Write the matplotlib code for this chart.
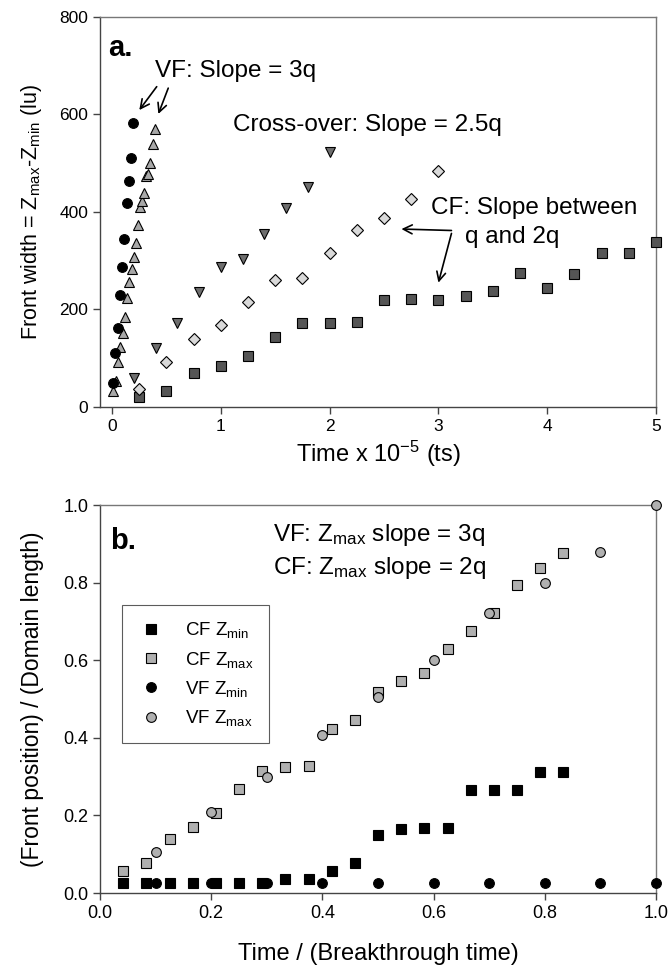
import numpy as np
import matplotlib
matplotlib.use('Agg')
import matplotlib.pyplot as plt

plt.rcParams['font.family'] = ['Liberation Sans', 'DejaVu Sans']
plt.rcParams['mathtext.default'] = 'regular'

# Panel a: front width vs time (x 1e-5 ts)
vf1_t = [0.006, 0.028, 0.052, 0.074, 0.095, 0.113, 0.138, 0.156, 0.175, 0.196]
vf1_w = [50, 111, 163, 230, 288, 344, 418, 463, 511, 582]

vf2_t = [0.012, 0.037, 0.058, 0.077, 0.098, 0.117, 0.138, 0.159, 0.181, 0.199,
         0.221, 0.239, 0.260, 0.279, 0.297, 0.315, 0.334, 0.352, 0.374, 0.395]
vf2_w = [33, 54, 93, 124, 152, 185, 223, 257, 282, 307,
         336, 373, 410, 423, 438, 473, 477, 501, 539, 570]

xo_t = [0.2, 0.4, 0.6, 0.8, 1.0, 1.2, 1.4, 1.6, 1.8, 2.0]
xo_w = [59, 122, 172, 236, 287, 303, 355, 408, 451, 524]

cf1_t = [0.25, 0.5, 0.75, 1.0, 1.25, 1.5, 1.75, 2.0, 2.25, 2.5, 2.75, 3.0]
cf1_w = [36, 92, 139, 168, 215, 260, 265, 315, 363, 387, 427, 485]

cf2_t = [0.25, 0.5, 0.75, 1.0, 1.25, 1.5, 1.75, 2.0, 2.25, 2.5,
         2.75, 3.0, 3.25, 3.5, 3.75, 4.0, 4.25, 4.5, 4.75, 5.0]
cf2_w = [21, 33, 69, 84, 105, 143, 172, 173, 175, 219,
         221, 219, 228, 238, 275, 245, 272, 316, 315, 338]

# Panel b: normalised front positions vs normalised time
cf_tn = [0.0417, 0.0833, 0.125, 0.1667, 0.2083, 0.25, 0.2917, 0.3333, 0.375, 0.4167,
         0.4583, 0.5, 0.5417, 0.5833, 0.625, 0.6667, 0.7083, 0.75, 0.7917, 0.8333]
cf_zmin = [0.025, 0.025, 0.025, 0.027, 0.027, 0.027, 0.027, 0.035, 0.035, 0.056,
           0.078, 0.149, 0.165, 0.168, 0.168, 0.265, 0.265, 0.265, 0.311, 0.311]
cf_zmax = [0.057, 0.078, 0.139, 0.171, 0.205, 0.268, 0.315, 0.325, 0.328, 0.424,
           0.447, 0.517, 0.546, 0.566, 0.629, 0.676, 0.721, 0.795, 0.837, 0.877]

vf_tn = [0.1, 0.2, 0.3, 0.4, 0.5, 0.6, 0.7, 0.8, 0.9, 1.0]
vf_zmin = [0.025, 0.025, 0.025, 0.025, 0.025, 0.025, 0.025, 0.025, 0.025, 0.025]
vf_zmax = [0.106, 0.21, 0.30, 0.407, 0.506, 0.60, 0.723, 0.80, 0.88, 1.0]

FS_XLAB = 17
FS_TXT = 17.5
FS_PANEL = 21

fig = plt.figure(figsize=(6.69, 9.69), dpi=100)
axa = fig.add_axes([0.1495, 0.580, 0.8311, 0.4025])
axb = fig.add_axes([0.1495, 0.0784, 0.8311, 0.4004])

def styleAxes(ax, labelsize):
    for s in ['left', 'bottom']:
        ax.spines[s].set_color('#444444')
    for s in ['top', 'right']:
        ax.spines[s].set_color('#777777')
    for s in ax.spines.values():
        s.set_linewidth(1.0)
    ax.tick_params(direction='out', length=5, width=1, color='#444444',
                   labelsize=labelsize, top=False, right=False)

mk = dict(linestyle='none', markersize=7, markeredgewidth=0.8,
          markeredgecolor='black', clip_on=False, zorder=3)

# Panel a
#---------------------------------------------
axa.plot(cf2_t, cf2_w, marker='s', markerfacecolor='#555555', **mk)
axa.plot(cf1_t, cf1_w, marker='D', markerfacecolor='#d9d9d9',
         **{**mk, 'markersize': 6})
axa.plot(xo_t, xo_w, marker='v', markerfacecolor='#6e6e6e', **mk)
axa.plot(vf2_t, vf2_w, marker='^', markerfacecolor='#a8a8a8', **mk)
axa.plot(vf1_t, vf1_w, marker='o', markerfacecolor='black', **mk)

axa.set_xlim(-0.11, 5)
axa.set_ylim(0, 800)
axa.set_xticks([0, 1, 2, 3, 4, 5])
axa.set_yticks([0, 200, 400, 600, 800])
styleAxes(axa, 12.5)
axa.set_xlabel('Time x 10$^{-5}$ (ts)', fontsize=FS_XLAB)
axa.xaxis.set_label_coords(0.5, -0.082)
axa.set_ylabel('Front width = Z$_{max}$-Z$_{min}$ (lu)', fontsize=15.5)
axa.yaxis.set_label_coords(-0.10, 0.5)

axa.text(-0.04, 736, 'a.', fontsize=FS_PANEL, fontweight='bold', va='center')
axa.text(0.395, 689, 'VF: Slope = 3q', fontsize=FS_TXT, va='center')
axa.text(1.11, 578, 'Cross-over: Slope = 2.5q', fontsize=FS_TXT, va='center')
axa.text(2.93, 408, 'CF: Slope between', fontsize=FS_TXT, va='center')
axa.text(3.24, 349, 'q and 2q', fontsize=FS_TXT, va='center')

arr = dict(arrowstyle='->', color='black', lw=1.2, mutation_scale=16,
           shrinkA=0, shrinkB=0)
axa.annotate('', xy=(0.251, 609), xytext=(0.411, 657), arrowprops=arr)
axa.annotate('', xy=(0.426, 601), xytext=(0.517, 654), arrowprops=arr)
axa.annotate('', xy=(2.66, 365), xytext=(3.12, 362), arrowprops=arr)
axa.annotate('', xy=(3.0, 255), xytext=(3.12, 356), arrowprops=arr)

# Panel b
#---------------------------------------------
axb.plot(cf_tn, cf_zmin, marker='s', markerfacecolor='black',
         label='CF Z$_{min}$', **mk)
axb.plot(cf_tn, cf_zmax, marker='s', markerfacecolor='#b0b0b0',
         label='CF Z$_{max}$', **mk)
axb.plot(vf_tn, vf_zmin, marker='o', markerfacecolor='black',
         label='VF Z$_{min}$', **mk)
axb.plot(vf_tn, vf_zmax, marker='o', markerfacecolor='#b0b0b0',
         label='VF Z$_{max}$', **mk)

ticksb = np.arange(0, 1.01, 0.2)
axb.set_xlim(0, 1)
axb.set_ylim(0, 1)
axb.set_xticks(ticksb)
axb.set_yticks(ticksb)
axb.set_xticklabels(['%.1f' % v for v in ticksb])
axb.set_yticklabels(['%.1f' % v for v in ticksb])
styleAxes(axb, 13)
axb.set_xlabel('Time / (Breakthrough time)', fontsize=FS_XLAB)
axb.xaxis.set_label_coords(0.5, -0.13)
axb.set_ylabel('(Front position) / (Domain length)', fontsize=16.5)
axb.yaxis.set_label_coords(-0.10, 0.5)

axb.text(0.018, 0.907, 'b.', fontsize=FS_PANEL, fontweight='bold', va='center')
axb.text(0.311, 0.923, 'VF: Z$_{max}$ slope = 3q', fontsize=FS_TXT, va='center')
axb.text(0.311, 0.838, 'CF: Z$_{max}$ slope = 2q', fontsize=FS_TXT, va='center')

leg = axb.legend(loc='upper left', bbox_to_anchor=(0.039, 0.742),
                 borderaxespad=0, fontsize=13.5, frameon=True, fancybox=False,
                 edgecolor='#333333', handletextpad=1.1, labelspacing=0.5,
                 borderpad=0.8, handlelength=1.5, markerscale=1.0)
leg.get_frame().set_linewidth(0.8)

fig.savefig('out.png', dpi=100)
